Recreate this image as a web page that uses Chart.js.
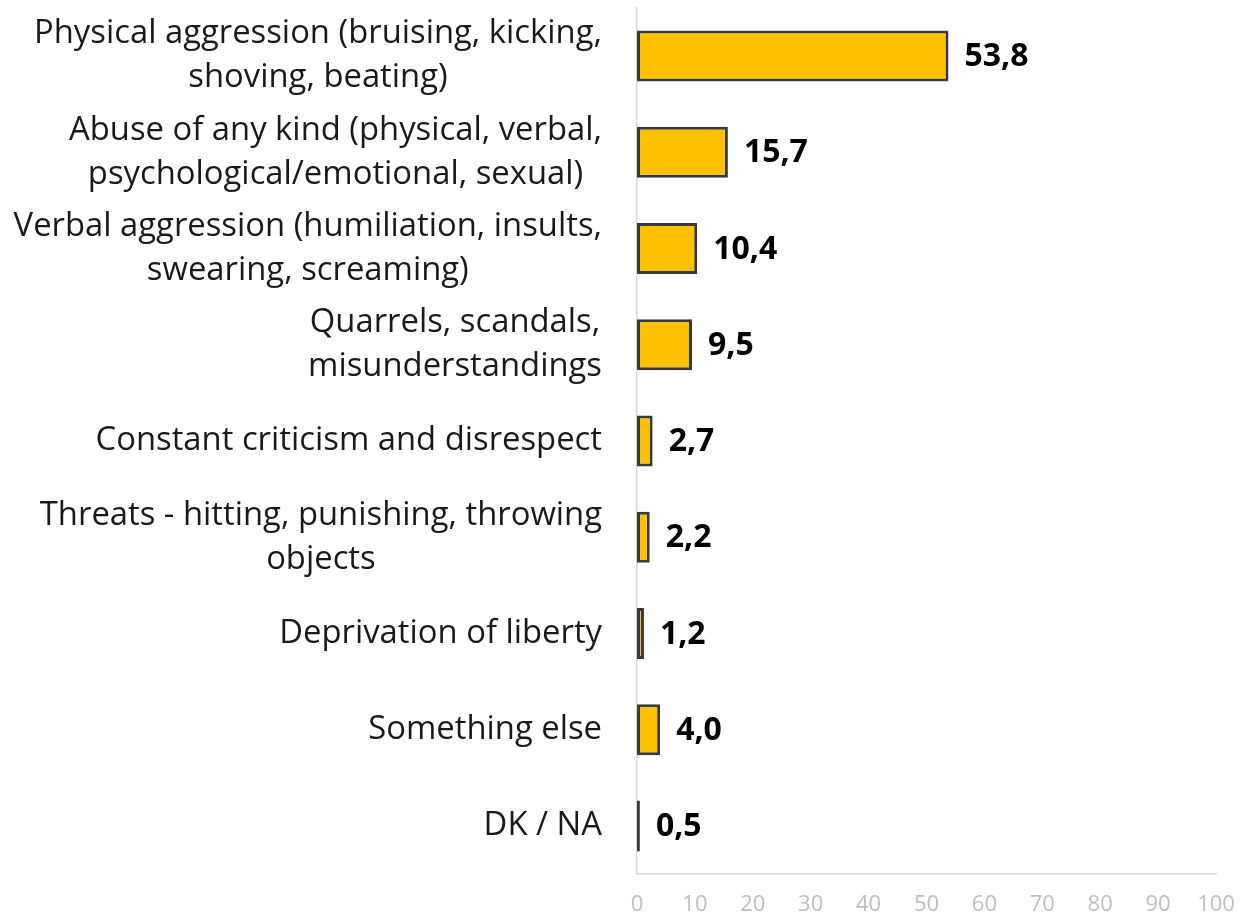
<!DOCTYPE html>
<html>
<head>
<meta charset="utf-8">
<script src="https://cdn.jsdelivr.net/npm/chart.js@4/dist/chart.umd.min.js"></script>
<style>
  html, body { margin: 0; padding: 0; background: #fff; }
  #wrap { width: 1243px; height: 922px; }
</style>
</head>
<body>
<div id="wrap"><canvas id="myChart" width="1243" height="922"></canvas></div>
<script>
const categories = [
    ["Physical aggression (bruising, kicking,", "shoving, beating)"],
    ["Abuse of any kind (physical, verbal,", "psychological/emotional, sexual)"],
    ["Verbal aggression (humiliation, insults,", "swearing, screaming)"],
    ["Quarrels, scandals,", "misunderstandings"],
    ["Constant criticism and disrespect"],
    ["Threats - hitting, punishing, throwing", "objects"],
    ["Deprivation of liberty"],
    ["Something else"],
    ["DK / NA"]
];
const values = [53.8, 15.7, 10.4, 9.5, 2.7, 2.2, 1.2, 4.0, 0.5];
const xTicks = [0, 10, 20, 30, 40, 50, 60, 70, 80, 90, 100];

const labelFont = "32.8px 'Open Sans'";
const valueFont = "bold 32px 'Open Sans'";

// category labels: right-aligned block, lines centered inside the block
const catLabels = {
    id: "catLabels",
    afterDraw(chart) {
        const ctx = chart.ctx;
        const yScale = chart.scales.y;
        const xScale = chart.scales.x;
        const rightEdge = xScale.left - 35;
        const lineH = 44;
        ctx.save();
        ctx.font = labelFont;
        ctx.fillStyle = "#1a1a1a";
        ctx.textAlign = "center";
        ctx.textBaseline = "middle";
        categories.forEach((lines, i) => {
            const y = yScale.getPixelForValue(i);
            let w = 0;
            lines.forEach(l => { w = Math.max(w, ctx.measureText(l).width); });
            const cx = rightEdge - w / 2;
            const y0 = y - (lines.length - 1) * lineH / 2;
            lines.forEach((l, j) => ctx.fillText(l, cx, y0 + j * lineH));
        });
        ctx.restore();
    }
};

// value labels at bar ends
const valueLabels = {
    id: "valueLabels",
    afterDatasetsDraw(chart) {
        const ctx = chart.ctx;
        const meta = chart.getDatasetMeta(0);
        ctx.save();
        ctx.font = valueFont;
        ctx.fillStyle = "#000";
        ctx.textAlign = "left";
        ctx.textBaseline = "middle";
        meta.data.forEach((bar, i) => {
            ctx.fillText(values[i].toFixed(1).replace(".", ","), bar.x + 16, bar.y + 1);
        });
        ctx.restore();
    }
};

var ctx = document.getElementById("myChart").getContext("2d");

var config = {
    type: "bar",
    data: {
        labels: categories,
        datasets: [{
            data: values,
            backgroundColor: "#FFC000",
            borderColor: "#3a3a3a",
            borderWidth: 3,
            borderSkipped: false,
            barPercentage: 0.53,
            categoryPercentage: 1.0
        }]
    },
    options: {
        indexAxis: "y",
        responsive: false,
        animation: false,
        layout: { padding: { left: 637, right: 27, top: 8, bottom: 0 } },
        plugins: {
            legend: { display: false },
            tooltip: { enabled: false }
        },
        scales: {
            x: {
                min: 0,
                max: 100,
                afterBuildTicks: (scale) => { scale.ticks = xTicks.map(v => ({ value: v })); },
                afterFit: (scale) => {
                    scale.height = 48;
                    scale.paddingLeft = 0;
                    scale.paddingRight = 0;
                },
                grid: { display: false, drawTicks: false },
                border: { display: true, color: "#d9d9d9", width: 1.5 },
                ticks: {
                    color: "#bfbfbf",
                    font: { family: "Open Sans", size: 22 },
                    padding: 18
                }
            },
            y: {
                grid: { display: false, drawTicks: false },
                border: { display: true, color: "#d9d9d9", width: 1.5 },
                ticks: { display: false }
            }
        }
    },
    plugins: [catLabels, valueLabels]
};

var myChart = new Chart(ctx, config);
</script>
</body>
</html>
